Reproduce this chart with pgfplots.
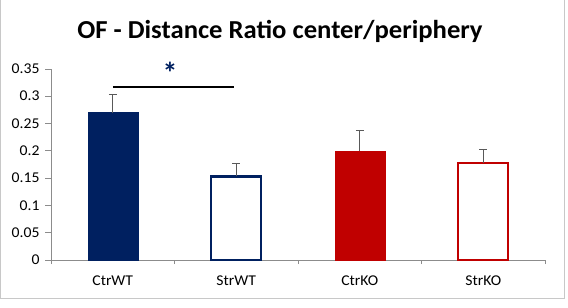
\documentclass[border=0pt]{standalone}
\usepackage{pgfplots}
\pgfplotsset{compat=1.18}
\usepackage{fontspec}
\setmainfont{Carlito}
\newfontfamily\tickfont{Carlito}[FakeStretch=1.05]
\newfontfamily\titlefont{Carlito}[FakeStretch=1.03]
\definecolor{navy}{HTML}{002060}
\definecolor{darkred}{HTML}{C00000}
\definecolor{axisgray}{HTML}{8C8C8C}
\definecolor{framegray}{HTML}{C8C8C8}
\definecolor{errgray}{HTML}{595959}
\begin{document}
\begin{tikzpicture}[x=1bp,y=1bp]
% page extent and chart frame
\path[use as bounding box] (0,0) rectangle (568,307);
\draw[framegray,line width=1bp] (0.5,307) -- (0.5,9) -- (564,9) -- (564,307);
% title
\node[anchor=base,font=\titlefont\fontsize{26}{30}\selectfont\bfseries] at (280,269) {OF - Distance Ratio center/periphery};
\begin{axis}[
  at={(51bp,47bp)}, anchor=south west,
  scale only axis, width=494bp, height=191.1bp,
  xmin=-0.5, xmax=3.5, ymin=0, ymax=0.35,
  axis x line=bottom, axis y line=left,
  axis line style={axisgray,line width=0.8bp,-},
  xtick={0,1,2,3}, xticklabels={CtrWT,StrWT,CtrKO,StrKO},
  major x tick style={draw=none},
  minor xtick={-0.5,0.5,1.5,2.5,3.5},
  minor tick length=4bp,
  ytick={0,0.05,0.1,0.15,0.2,0.25,0.3,0.35},
  major tick length=6bp,
  tick align=outside,
  tick style={axisgray,line width=0.8bp},
  ticklabel style={font=\tickfont\fontsize{15}{17}\selectfont, text=black},
  /pgf/number format/assume math mode=true,
  yticklabel style={/pgf/number format/fixed,/pgf/number format/precision=2,xshift=-2bp},
  xticklabel style={yshift=-6bp},
  ybar, bar shift=0pt, bar width=0.405,
  error bars/y dir=plus, error bars/y explicit,
  error bars/error bar style={errgray,line width=0.9bp},
  error bars/error mark options={errgray,line width=0.9bp,mark size=4bp,rotate=90},
  clip=false,
]
\addplot[fill=navy,draw=navy] coordinates {(0,0.270) +- (0,0.033)};
\addplot[fill=white,draw=navy,line width=2.4bp] coordinates {(1,0.153) +- (0,0.023)};
\addplot[fill=darkred,draw=darkred] coordinates {(2,0.200) +- (0,0.038)};
\addplot[fill=white,draw=darkred,line width=2.4bp] coordinates {(3,0.178) +- (0,0.025)};
% significance bracket between CtrWT and StrWT
\draw[black,line width=2bp] (axis cs:0,0.317) -- (axis cs:0.98,0.317);
\node[navy,font=\fontsize{30}{32}\selectfont\bfseries] at (axis cs:0.465,0.342) {*};
\end{axis}
\end{tikzpicture}
\end{document}
